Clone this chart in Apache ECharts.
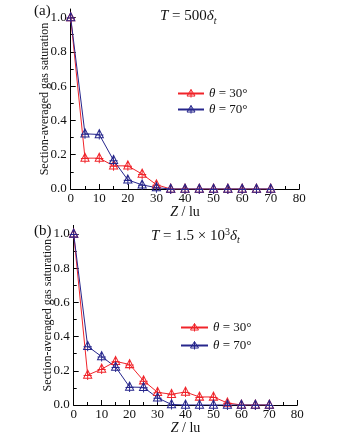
<!DOCTYPE html>
<html><head><meta charset="utf-8">
<script src="https://cdn.jsdelivr.net/npm/echarts@6/dist/echarts.min.js"></script>
<style>html,body{margin:0;padding:0;background:#fff}#c{width:337px;height:436px}</style>
</head><body><div id="c"></div>
<script>
const zValues = [0,5,10,15,20,25,30,35,40,45,50,55,60,65,70];
const theta30A = [1.0,0.18,0.18,0.135,0.135,0.087,0.025,0,0,0,0,0,0,0,0];
const theta70A = [1.0,0.322,0.318,0.167,0.053,0.024,0.008,0,0,0,0,0,0,0,0];
const theta30B = [1.0,0.175,0.21,0.255,0.237,0.142,0.074,0.063,0.076,0.047,0.047,0.012,0,0,0];
const theta70B = [1.0,0.343,0.283,0.222,0.105,0.103,0.042,0.003,0,0,0,0,0,0,0];
const yMajor = [0,0.2,0.4,0.6,0.8,1.0];
const yMinor = [0.1,0.3,0.5,0.7,0.9];
const name30 = 'θ = 30°', name70 = 'θ = 70°';
const RED = '#f0242a', BLUE = '#26268c';
const FONT = '"Liberation Serif","Times New Roman",serif';
const MARK = 'path://M5,0L10,9L0,9Z M5,0L5,11 M0,6L10,6';

const pair = a => zValues.map((z,i)=>[z,a[i]]);
const chart = echarts.init(document.getElementById('c'));
const grids = [
  {left:70.7, top:9, width:228.6, height:180},
  {left:73.7, top:225.4, width:223.6, height:180.3}
];
function xAx(g){return {type:'value', gridIndex:g, min:0, max:80, interval:10,
  axisLine:{lineStyle:{color:'#000',width:1}}, axisTick:{inside:true,length:5,lineStyle:{color:'#000'}},
  minorTick:{show:true,splitNumber:2,length:3,lineStyle:{color:'#000'}},
  splitLine:{show:false},
  axisLabel:{color:'#111',fontFamily:FONT,fontSize:13,margin:3},
  name:'{i|Z} / lu', nameLocation:'middle', nameGap:16, nameMoveOverlap:false,
  nameTextStyle:{fontFamily:FONT,fontSize:14,color:'#111',verticalAlign:'top',rich:{i:{fontFamily:FONT,fontSize:14,fontStyle:'italic',color:'#111'}}}
};}
function yAx(g){return {type:'value', gridIndex:g, min:0, max:1.05, position:'left',
  axisLine:{lineStyle:{color:'#000',width:1}},
  axisTick:{inside:true,length:3,customValues:yMajor.concat(yMinor),lineStyle:{color:'#000'}},
  splitLine:{show:false},
  axisLabel:{customValues:yMajor,formatter:v=>v.toFixed(1),color:'#111',fontFamily:FONT,fontSize:13,margin:4},
  name:'Section-averaged gas saturation', nameLocation:'middle', nameGap:20, nameMoveOverlap:false,
  nameTextStyle:{fontFamily:FONT,fontSize:12,color:'#111'}
};}
function yMaj(g){return {type:'value', gridIndex:g, min:0, max:1.05, position:'left',
  axisLine:{show:true,lineStyle:{color:'rgba(0,0,0,0)'}}, axisLabel:{show:false}, splitLine:{show:false},
  axisTick:{show:true,inside:true,length:5,customValues:yMajor,lineStyle:{color:'#000'}}
};}
function ser(name,data,color,g){return {type:'line', name, data:pair(data), xAxisIndex:g, yAxisIndex:g*2,
  symbol:MARK, symbolSize:[9,10], symbolKeepAspect:true,
  lineStyle:{color,width:1}, itemStyle:{color:'rgba(255,255,255,0)',borderColor:color,borderWidth:1},
  emphasis:{disabled:true}, animation:false};}
const legendText = {fontFamily:FONT,fontSize:13,color:'#111',rich:{i:{fontFamily:FONT,fontSize:13,fontStyle:'italic',color:'#111'}}};
const legFmt = n => '{i|θ}' + n.slice(1);
const legData = [
  {name:name30, itemStyle:{color:'rgba(255,255,255,0)',borderColor:RED,borderWidth:1}},
  {name:name70, itemStyle:{color:'rgba(255,255,255,0)',borderColor:BLUE,borderWidth:1}}
];
chart.setOption({
  animation:false,
  grid:grids,
  xAxis:[xAx(0),xAx(1)],
  yAxis:[yAx(0),yMaj(0),yAx(1),yMaj(1)],
  legend:[
    {orient:'vertical', left:177, top:87, padding:0, itemWidth:26, itemHeight:10, itemGap:3, data:legData, formatter:legFmt, textStyle:legendText, selectedMode:false},
    {orient:'vertical', left:180, top:321, padding:0, itemWidth:27, itemHeight:10, itemGap:5, data:legData, formatter:legFmt, textStyle:legendText, selectedMode:false}
  ],
  series:[
    ser(name30,theta30A,RED,0), ser(name70,theta70A,BLUE,0),
    ser(name30,theta30B,RED,1), ser(name70,theta70B,BLUE,1)
  ],
  graphic:[
    {type:'text', left:34, top:4, style:{text:'(a)', font:'15px '+FONT, fill:'#111'}},
    {type:'text', left:34, top:224, style:{text:'(b)', font:'15px '+FONT, fill:'#111'}},
    {type:'text', left:160, top:9, style:{text:'{i|T} = 500{i|δ}{s|t}', font:'15px '+FONT, fill:'#111',
      rich:{i:{font:'italic 15px '+FONT,fill:'#111'}, s:{font:'italic 10px '+FONT,fill:'#111',padding:[9,0,0,0]}}}},
    {type:'text', left:151, top:227, style:{text:'{i|T} = 1.5 × 10{p|3}{i|δ}{s|t}', font:'15px '+FONT, fill:'#111',
      rich:{i:{font:'italic 15px '+FONT,fill:'#111'}, p:{font:'10px '+FONT,fill:'#111',padding:[0,0,8,0]}, s:{font:'italic 10px '+FONT,fill:'#111',padding:[9,0,0,0]}}}}
  ]
});
</script></body></html>
